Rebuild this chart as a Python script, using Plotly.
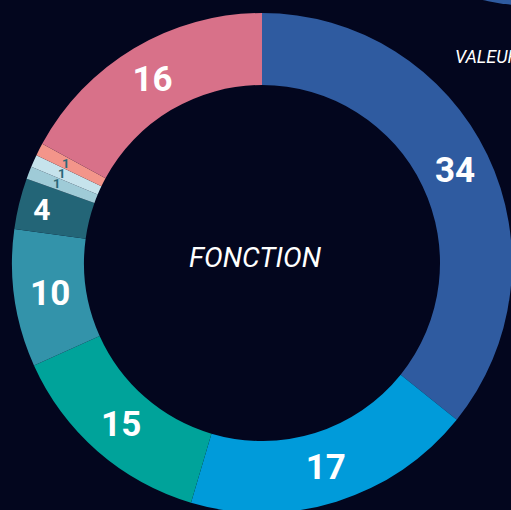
import math
import plotly.graph_objects as go

# printed numbers on each slice
shown_numbers = [34, 17, 15, 10, 4, 1, 1, 1, 16]
slice_shares = [35.8, 18.8, 13.7, 8.9, 3.3, 0.81, 0.81, 0.81, 17.1]
categories = ["A", "B", "C", "D", "E", "F", "G", "H", "I"]
colors = ["#2F5BA0", "#009BDA", "#00A39A", "#3393AA", "#236577",
          "#9FCBD7", "#C6E3EC", "#F3958A", "#D87189"]
center_title = "FONCTION"
side_title = "VALEUR"

WF, HF = 514, 516          # slightly larger than window; overflow is hidden
CX, CY, R = 262, 263, 250  # donut centre / radius in px
HOLE = 0.712

big = [n >= 4 for n in shown_numbers]
text_sizes = [35 if n >= 10 else 30 for n in shown_numbers]

fig = go.Figure()
fig.add_trace(go.Pie(
    labels=categories, values=slice_shares, sort=False, direction="clockwise", rotation=0,
    hole=HOLE,
    marker=dict(colors=colors, line=dict(width=0)),
    text=[str(n) for n in shown_numbers], texttemplate="%{text}",
    textposition=["inside" if b else "none" for b in big],
    insidetextorientation="horizontal",
    textfont=dict(family="Roboto", size=text_sizes, color="white", weight="bold"),
    domain=dict(x=[(CX - R) / WF, (CX + R) / WF], y=[(HF - CY - R) / HF, (HF - CY + R) / HF]),
    showlegend=False, hoverinfo="skip",
))

# small slice labels placed at the middle of their slices
total = sum(slice_shares)
cum = 0.0
for n, v, b in zip(shown_numbers, slice_shares, big):
    if not b:
        th = 2 * math.pi * (cum + v / 2) / total
        r = 0.88 * R
        px = CX + r * math.sin(th)
        py = CY - r * math.cos(th)
        fig.add_annotation(text=str(n), x=px / WF, y=(HF - py) / HF, xref="paper", yref="paper",
                           xanchor="center", yanchor="middle", showarrow=False,
                           font=dict(family="Roboto", size=13, color="#2A6878", weight="bold"))
    cum += v

fig.add_annotation(text=center_title, x=255 / WF, y=(HF - 257) / HF, xref="paper", yref="paper",
                   xanchor="center", yanchor="middle", showarrow=False,
                   font=dict(family="Roboto", size=28, color="white", style="italic"))
fig.add_annotation(text=side_title, x=453 / WF, y=(HF - 57) / HF, xref="paper", yref="paper",
                   xanchor="left", yanchor="middle", showarrow=False,
                   font=dict(family="Roboto", size=18, color="white", style="italic"))
# partial arc of neighbouring chart (top-right corner)
fig.add_shape(type="circle", xref="paper", yref="paper",
              x0=287 / WF, x1=787 / WF, y0=(HF - 6) / HF, y1=(HF + 494) / HF,
              fillcolor="#2F5BA0", line=dict(width=0), layer="above")
fig.update_layout(
    width=WF, height=HF, margin=dict(l=0, r=0, t=0, b=0),
    paper_bgcolor="#03061E", plot_bgcolor="#03061E",
)
fig.write_html("out.html", config={"displayModeBar": False},
               post_script="document.body.style.margin='0';document.body.style.overflow='hidden';"
                           "document.documentElement.style.overflow='hidden';")
